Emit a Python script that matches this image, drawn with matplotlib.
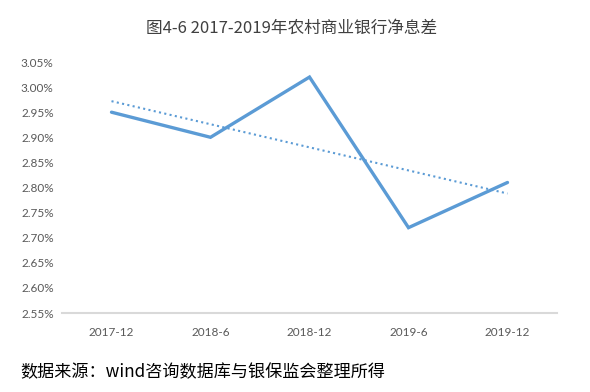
import matplotlib
matplotlib.use("Agg")
import matplotlib.pyplot as plt
import numpy as np
from matplotlib.ticker import FuncFormatter

categories = ["2017-12", "2018-6", "2018-12", "2019-6", "2019-12"]
nim = [2.95, 2.90, 3.02, 2.72, 2.81]
title = "图4-6 2017-2019年农村商业银行净息差"
source = "数据来源：wind咨询数据库与银保监会整理所得"

plt.rcParams['font.family'] = ['Noto Sans CJK SC', 'DejaVu Sans']

fig = plt.figure(figsize=(5.9, 3.92), dpi=100)
ax = fig.add_axes([62/590, 1-313/392, (557-62)/590, (313-62)/392])

x = np.arange(len(categories))
ax.plot(x, nim, color="#5B9BD5", lw=2.4, solid_capstyle="round", solid_joinstyle="miter")
coef = np.polyfit(x, nim, 1)
ax.plot(x, np.polyval(coef, x), color="#5B9BD5", lw=1.5, linestyle=(0, (1, 1.6)))

ax.set_xlim(-0.5, len(categories)-0.5)
ax.set_ylim(2.55, 3.05)
ax.set_yticks(np.arange(2.55, 3.0501, 0.05))
ax.yaxis.set_major_formatter(FuncFormatter(lambda v, p: f"{v:.2f}%"))
ax.set_xticks(x)
ax.set_xticklabels(categories)
for s in ["top", "right", "left"]:
    ax.spines[s].set_visible(False)
ax.spines["bottom"].set_color("#D9D9D9")
ax.spines["bottom"].set_linewidth(1.5)
ax.tick_params(length=0, colors="#595959", labelsize=8.5)
ax.tick_params(axis="y", pad=6)
ax.tick_params(axis="x", pad=10)
for lab in ax.get_xticklabels() + ax.get_yticklabels():
    lab.set_family(["Lato", "DejaVu Sans"])

fig.text(292/590, 1-28/392, title, ha="center", va="center", fontsize=12, color="#404040")
fig.text(20/590, 1-372/392, source, ha="left", va="center", fontsize=12.3, color="black", fontweight="light")

fig.savefig("out.png", dpi=100)
